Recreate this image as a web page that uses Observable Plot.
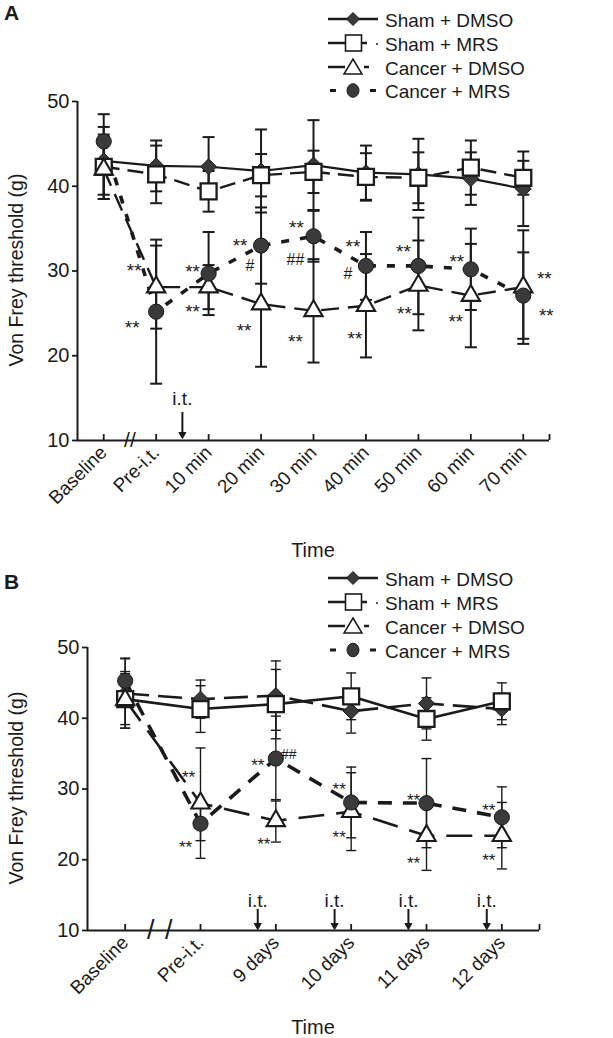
<!DOCTYPE html>
<html><head><meta charset="utf-8">
<script src="https://cdn.jsdelivr.net/npm/d3@7"></script>
<script src="https://cdn.jsdelivr.net/npm/@observablehq/plot@0.6"></script>
<style>
body{margin:0;background:#fff;}
#wrap{position:relative;width:613px;height:1038px;overflow:hidden;background:#fff;}
#wrap > svg{position:absolute;left:0;}
</style></head><body><div id="wrap"></div>
<script>
// ---------- DATA ----------
const seriesNames = ["Sham + DMSO", "Sham + MRS", "Cancer + DMSO", "Cancer + MRS"];

const timesA = ["Baseline", "Pre-i.t.", "10 min", "20 min", "30 min", "40 min", "50 min", "60 min", "70 min"];
const shamDmsoA    = [43.0, 42.4, 42.3, 41.8, 42.5, 41.6, 41.4, 40.9, 39.7];
const shamDmsoErrA = [4.0, 3.0, 3.5, 4.9, 5.3, 3.2, 4.2, 3.1, 4.4];
const shamMrsA     = [42.3, 41.4, 39.4, 41.3, 41.7, 41.1, 41.0, 42.2, 41.0];
const shamMrsErrA  = [3.8, 3.4, 2.4, 2.5, 2.5, 2.8, 3.0, 3.2, 2.0];
const cancerDmsoA    = [42.0, 28.1, 28.1, 26.1, 25.3, 25.9, 28.3, 27.1, 28.1];
const cancerDmsoErrA = [3.5, 4.9, 2.6, 7.4, 6.1, 6.1, 5.3, 6.1, 6.7];
const cancerMrsA     = [45.3, 25.2, 29.7, 33.0, 34.1, 30.6, 30.6, 30.2, 27.1];
const cancerMrsErrA  = [3.2, 8.5, 4.9, 4.5, 3.0, 4.0, 5.7, 4.8, 5.1];
// significance marks: [series index, time index, text]
const marksA = [
  [2,1,"**"],[3,1,"**"],[3,2,"**"],[2,2,"**"],[3,3,"**"],[3,3,"#"],[2,3,"**"],
  [3,4,"**"],[3,4,"##"],[2,4,"**"],[3,5,"**"],[3,5,"#"],[2,5,"**"],
  [3,6,"**"],[2,6,"**"],[3,7,"**"],[2,7,"**"],[2,8,"**"],[3,8,"**"]
];
const injectionsA = [1.5];

const timesB = ["Baseline", "Pre-i.t.", "9 days", "10 days", "11 days", "12 days"];
const shamDmsoB    = [43.5, 42.7, 43.2, 41.0, 42.1, 41.3];
const shamDmsoErrB = [4.9, 2.7, 4.9, 3.1, 3.6, 2.2];
const shamMrsB     = [42.7, 41.3, 42.0, 43.1, 39.9, 42.4];
const shamMrsErrB  = [3.6, 3.3, 4.9, 3.3, 3.0, 2.6];
const cancerDmsoB    = [42.6, 28.0, 25.5, 26.8, 23.4, 23.4];
const cancerDmsoErrB = [4.0, 7.8, 3.0, 5.5, 4.9, 4.7];
const cancerMrsB     = [45.3, 25.1, 34.3, 28.1, 28.0, 26.0];
const cancerMrsErrB  = [3.2, 2.4, 6.0, 5.0, 6.3, 4.3];
const marksB = [
  [2,1,"**"],[3,1,"**"],[3,2,"**"],[3,2,"##"],[2,2,"**"],
  [3,3,"**"],[2,3,"**"],[3,4,"**"],[2,4,"**"],[3,5,"**"],[2,5,"**"]
];
const injectionsB = [1.76, 2.78, 3.76, 4.8];

// ---------- STYLE / LAYOUT ----------
const FONT = '"Liberation Sans", Arial, Helvetica, sans-serif';
const INK = "#1b1b1b";
const DARK = "#3a3a3a";
const symbols = ["diamond2", "square", "triangle", "circle"];
const fills = [DARK, "white", "white", DARK];
const radii = [7.2, 9, 6.8, 7.6];
const mStroke = [1, 2.3, 2.1, 1];
// pixel offsets for the significance marks (same order as marksA / marksB)
const offA = [[-22,-20],[-24,12],[-16,-6],[-16,21],[-21,-4],[-11,20],[-17,23],
  [-17,-12],[-18,24],[-18,27],[-13,-23],[-18,8],[-11,29],
  [-15,-18],[-14,24],[-14,-11],[-15,22],[21,-12],[23,16]];
const offB = [[-12,-30],[-15,20],[-18,3],[13,-4],[-12,20],
  [-12,-17],[-12,22],[-13,-7],[-13,24],[-13,-11],[-13,21]];

function build(vals, errs) {
  return vals.flatMap((arr, s) => arr.map((v, i) => ({s, i, v, e: errs[s][i]})));
}
const capSymbol = {draw(ctx, size) { const w = Math.sqrt(size / Math.PI); ctx.moveTo(-w, 0); ctx.lineTo(w, 0); }};

function panel(cfg) {
  const {times, vals, errs, lineStyles, sig, offs, inj, breaks, height, mTop, mBottom, x0, x1, errW, capR, starSize, itY} = cfg;
  const n = times.length;
  const data = build(vals, errs);
  const caps = data.flatMap(d => [{i: d.i, y: d.v + d.e}, {i: d.i, y: d.v - d.e}]);
  const plotH = height - mTop - mBottom;
  const perPx = 40 / plotH;
  const tickTop = 10 + 6 * perPx;
  const marks = [];
  marks.push(Plot.ruleX(data, {x: "i", y1: d => d.v - d.e, y2: d => d.v + d.e, stroke: INK, strokeWidth: errW}));
  marks.push(Plot.dot(caps, {x: "i", y: "y", symbol: capSymbol, r: capR, stroke: INK, strokeWidth: errW, fill: "none"}));
  vals.forEach((arr, s) => {
    const st = lineStyles[s];
    marks.push(Plot.line(data.filter(d => d.s === s), {x: "i", y: "v", stroke: INK, strokeWidth: st.w, strokeDasharray: st.dash, strokeLinecap: "butt"}));
  });
  vals.forEach((arr, s) => {
    marks.push(Plot.dot(data.filter(d => d.s === s), {x: "i", y: "v", symbol: symbols[s], r: radii[s], fill: fills[s], stroke: INK, strokeWidth: mStroke[s]}));
  });
  sig.forEach((m, k) => {
    const [s, i, t] = m;
    const hash = t.startsWith("#");
    marks.push(Plot.text([m], {x: () => i, y: () => vals[s][i], text: () => t, dx: offs[k][0], dy: offs[k][1] + (hash ? 0 : 4),
      fontSize: hash ? starSize - 3 : starSize, fill: INK}));
  });
  marks.push(Plot.text(inj, {x: d => d, y: 10 + itY[0] * perPx, text: () => "i.t.", fontSize: 19, fill: INK}));
  marks.push(Plot.ruleX(inj, {x: d => d, y1: 10 + itY[1] * perPx, y2: 10 + itY[2] * perPx, stroke: INK, strokeWidth: 2}));
  marks.push(Plot.dot(inj, {x: d => d, y: 10 + (itY[2] - 1) * perPx, symbol: "triangle", rotate: 180, r: 2.6, fill: INK, stroke: INK, strokeWidth: 1}));
  marks.push(Plot.ruleY([10], {x1: -0.5, x2: n - 0.5, stroke: INK, strokeWidth: 2}));
  marks.push(Plot.ruleX([-0.5], {y1: 10, y2: 50, stroke: INK, strokeWidth: 2}));
  marks.push(Plot.ruleX([...d3.range(n), n - 0.5], {x: d => d, y1: 10, y2: tickTop, stroke: INK, strokeWidth: 1.8}));
  marks.push(Plot.axisY({ticks: [10, 20, 30, 40, 50], tickSize: 5, tickPadding: 3, fontSize: 20, label: null, stroke: INK, strokeWidth: 1.8, fill: INK}));
  marks.push(Plot.axisX({ticks: d3.range(n), tickFormat: i => times[i], tickRotate: -45, tickSize: 0, tickPadding: 9, fontSize: 19, label: null, fill: INK}));
  breaks.forEach(b => marks.push(Plot.text([b], {x: () => b.x, y: 10, text: () => b.t, fontSize: b.size, fill: INK})));
  return Plot.plot({
    width: 613, height, marginTop: mTop, marginBottom: mBottom, marginLeft: x0, marginRight: 613 - x1,
    x: {domain: [-0.5, n - 0.5], axis: null},
    y: {domain: [10, 50], axis: null},
    style: {fontFamily: FONT, background: "transparent", color: INK, overflow: "visible"},
    marks
  });
}

const wrap = document.getElementById("wrap");

const svgA = panel({
  times: timesA,
  vals: [shamDmsoA, shamMrsA, cancerDmsoA, cancerMrsA],
  errs: [shamDmsoErrA, shamMrsErrA, cancerDmsoErrA, cancerMrsErrA],
  lineStyles: [{w: 2.2, dash: null}, {w: 2.4, dash: "16,8"}, {w: 2.4, dash: "18,9"}, {w: 3.6, dash: "8,11"}],
  sig: marksA, offs: offA, inj: injectionsA,
  breaks: [{x: 0.5, t: "//", size: 21}],
  height: 560, mTop: 101, mBottom: 120, x0: 77, x1: 549,
  errW: 2, capR: 6, starSize: 19, itY: [42, 28, 7]
});
svgA.style.top = "0px";
wrap.appendChild(svgA);

const svgB = panel({
  times: timesB,
  vals: [shamDmsoB, shamMrsB, cancerDmsoB, cancerMrsB],
  errs: [shamDmsoErrB, shamMrsErrB, cancerDmsoErrB, cancerMrsErrB],
  lineStyles: [{w: 2.6, dash: "24,9"}, {w: 2.6, dash: null}, {w: 2.6, dash: "26,12"}, {w: 3.6, dash: "14,11"}],
  sig: marksB, offs: offB, inj: injectionsB,
  breaks: [{x: 0.34, t: "/", size: 27}, {x: 0.58, t: "/", size: 27}],
  height: 478, mTop: 87, mBottom: 108, x0: 87, x1: 539,
  errW: 1.4, capR: 5, starSize: 17, itY: [30, 21, 6]
});
svgB.style.top = "560px";
wrap.appendChild(svgB);

// ---------- OVERLAY: panel letters, axis titles, legends ----------
const ov = d3.create("svg").attr("width", 613).attr("height", 1038).style("top", "0px")
  .style("font-family", FONT).style("pointer-events", "none");
const T = (x, y, t, size, opts = {}) => {
  const e = ov.append("text").attr("x", x).attr("y", y).text(t).attr("font-size", size).attr("fill", INK)
    .attr("dominant-baseline", "central");
  Object.entries(opts).forEach(([k, v]) => e.attr(k, v));
  return e;
};
T(4, 12, "A", 21, {"font-weight": "bold"});
T(4, 581, "B", 21, {"font-weight": "bold"});
T(313, 550, "Time", 20, {"text-anchor": "middle"});
T(313, 1027, "Time", 20, {"text-anchor": "middle"});
T(0, 0, "Von Frey threshold (g)", 19.5, {"text-anchor": "middle", transform: "translate(16,270) rotate(-90)"});
T(0, 0, "Von Frey threshold (g)", 19.5, {"text-anchor": "middle", transform: "translate(16,788) rotate(-90)"});

function legend(rowsY) {
  const g = ov.append("g").attr("stroke", INK).attr("fill", "none");
  seriesNames.forEach((name, s) => {
    const y = rowsY[s];
    if (s === 0) {
      g.append("line").attr("x1", 328).attr("x2", 378).attr("y1", y).attr("y2", y).attr("stroke-width", 2.5);
      g.append("path").attr("d", `M353,${y-6.5}L359.5,${y}L353,${y+6.5}L346.5,${y}Z`).attr("fill", DARK).attr("stroke-width", 1);
    } else if (s === 1) {
      g.append("line").attr("x1", 328).attr("x2", 345.5).attr("y1", y).attr("y2", y).attr("stroke-width", 2.5);
      g.append("line").attr("x1", 361.5).attr("x2", 367).attr("y1", y).attr("y2", y).attr("stroke-width", 2.5);
      g.append("rect").attr("x", 345.5).attr("y", y - 8).attr("width", 16).attr("height", 16).attr("fill", "white").attr("stroke-width", 1.6);
      g.append("circle").attr("cx", 377).attr("cy", y + 1).attr("r", 1).attr("fill", INK).attr("stroke", "none");
    } else if (s === 2) {
      g.append("line").attr("x1", 328).attr("x2", 345).attr("y1", y).attr("y2", y).attr("stroke-width", 2.5);
      g.append("line").attr("x1", 364).attr("x2", 369).attr("y1", y).attr("y2", y).attr("stroke-width", 2.5);
      g.append("path").attr("d", `M353,${y-8}L362,${y+7}L344,${y+7}Z`).attr("fill", "white").attr("stroke-width", 1.5);
    } else {
      g.append("line").attr("x1", 330).attr("x2", 336).attr("y1", y).attr("y2", y).attr("stroke-width", 3);
      g.append("line").attr("x1", 370).attr("x2", 376).attr("y1", y).attr("y2", y).attr("stroke-width", 3);
      g.append("ellipse").attr("cx", 353).attr("cy", y).attr("rx", 6).attr("ry", 6.8).attr("fill", DARK).attr("stroke-width", 1);
    }
    T(385, y + 1, name, 19);
  });
}
legend([19, 43, 67, 90.5]);
legend([578, 602, 626, 650]);
wrap.appendChild(ov.node());
</script>
</body></html>
